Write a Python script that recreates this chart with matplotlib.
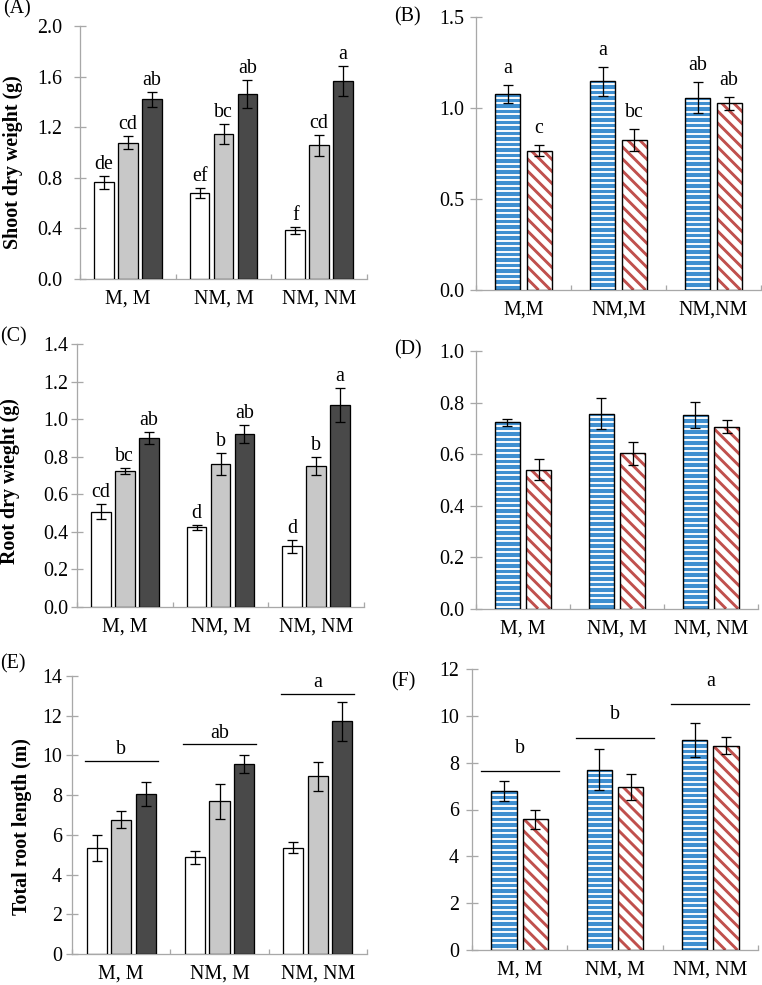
import matplotlib
matplotlib.use("Agg")
import matplotlib.pyplot as plt
from matplotlib.collections import LineCollection
from matplotlib.transforms import IdentityTransform
import numpy as np

DPI = 140
W, H = 762, 985

plt.rcParams['font.family'] = ['Liberation Serif', 'DejaVu Serif']

# x categories
groups = ['M, M', 'NM, M', 'NM, NM']
groups_b = ['M,M', 'NM,M', 'NM,NM']

# (A) shoot dry weight, three series (white, grey, dark)
shoot_w = [0.765, 0.680, 0.385]
shoot_w_err = [0.053, 0.043, 0.030]
shoot_w_let = ['de', 'ef', 'f']
shoot_g = [1.078, 1.149, 1.057]
shoot_g_err = [0.050, 0.080, 0.085]
shoot_g_let = ['cd', 'bc', 'cd']
shoot_d = [1.420, 1.460, 1.565]
shoot_d_err = [0.062, 0.112, 0.122]
shoot_d_let = ['ab', 'ab', 'a']

# (B) shoot, two series (blue striped, red striped)
shoot2_b = [1.075, 1.148, 1.057]
shoot2_b_err = [0.050, 0.080, 0.085]
shoot2_b_let = ['a', 'a', 'ab']
shoot2_r = [0.765, 0.826, 1.027]
shoot2_r_err = [0.030, 0.060, 0.036]
shoot2_r_let = ['c', 'bc', 'ab']

# (C) root dry weight
root_w = [0.506, 0.423, 0.322]
root_w_err = [0.040, 0.014, 0.036]
root_w_let = ['cd', 'd', 'd']
root_g = [0.723, 0.759, 0.752]
root_g_err = [0.015, 0.059, 0.048]
root_g_let = ['bc', 'b', 'b']
root_d = [0.901, 0.921, 1.075]
root_d_err = [0.032, 0.047, 0.090]
root_d_let = ['ab', 'ab', 'a']

# (D)
root2_b = [0.723, 0.757, 0.752]
root2_b_err = [0.015, 0.060, 0.049]
root2_r = [0.540, 0.603, 0.706]
root2_r_err = [0.040, 0.044, 0.026]

# (E) total root length
len_w = [5.35, 4.87, 5.35]
len_w_err = [0.66, 0.34, 0.28]
len_g = [6.76, 7.69, 8.95]
len_g_err = [0.43, 0.87, 0.73]
len_d = [8.06, 9.58, 11.72]
len_d_err = [0.60, 0.45, 0.99]
len_line = [9.72, 10.57, 13.11]
len_line_let = ['b', 'ab', 'a']

# (F)
len2_b = [6.78, 7.70, 8.97]
len2_b_err = [0.43, 0.88, 0.74]
len2_r = [5.58, 6.96, 8.72]
len2_r_err = [0.41, 0.56, 0.37]
len2_line = [7.64, 9.07, 10.50]
len2_line_let = ['b', 'b', 'a']

WHITE = '#FFFFFF'
GREY = '#C8C8C8'
DARK = '#494949'
BLUE = '#3F8FD0'
RED = '#C0504D'
AXCOL = '#A8A8A8'
FS = 20  # px


def pt(px):
    return px * 72.0 / DPI


fig = plt.figure(figsize=(W / DPI, H / DPI), dpi=DPI)


def make_axes(x0, x1, ytop, ybot):
    return fig.add_axes([x0 / W, 1 - ybot / H, (x1 - x0) / W, (ybot - ytop) / H])


def style(ax, ymax, step, fmt, pad_px, xlabels):
    ax.set_xlim(0, 3)
    ax.set_ylim(0, ymax)
    for s in ['top', 'right']:
        ax.spines[s].set_visible(False)
    for s in ['left', 'bottom']:
        ax.spines[s].set_color(AXCOL)
        ax.spines[s].set_linewidth(pt(1.3))
    ticks = np.arange(0, ymax + step / 2, step)
    ax.set_yticks(ticks)
    ax.set_yticklabels([fmt % t for t in ticks])
    ax.tick_params(axis='y', direction='inout', length=pt(12.6), width=pt(1.3),
                   color=AXCOL, labelsize=pt(FS), pad=pt(pad_px))
    ax.set_xticks([0, 1, 2, 3])
    ax.set_xticklabels([])
    ax.set_xticks([0.5, 1.5, 2.5], minor=True)
    ax.set_xticklabels(xlabels, minor=True)
    ax.tick_params(axis='x', which='major', direction='in', length=pt(5),
                   width=pt(1.3), color=AXCOL)
    ax.tick_params(axis='x', which='minor', direction='in', length=0,
                   labelsize=pt(FS), pad=pt(11))


def errs(ax, x, y, e):
    ax.errorbar(x, y, yerr=e, fmt='none', ecolor='black', elinewidth=pt(1.3),
                capsize=pt(4.6), capthick=pt(1.3), zorder=5)


def letters(ax, x, y, e, labs, off_px):
    for xi, yi, ei, t in zip(x, y, e, labs):
        ax.annotate(t, (xi, yi + ei), xytext=(0, pt(off_px)), textcoords='offset points',
                    ha='center', va='bottom', fontsize=pt(FS))


def three_bars(ax, series, off_px):
    centers = np.arange(3) + 0.5
    for k, (vals, err, col, labs) in enumerate(series):
        x = centers + (k - 1) * 0.25
        ax.bar(x, vals, 0.205, color=col, edgecolor='black', linewidth=pt(1.3), zorder=3)
        errs(ax, x, vals, err)
        if labs is not None:
            letters(ax, x, vals, err, labs, off_px)


def stripes(ax, bars, color, spacing, lw_px, diagonal):
    # stripe fill drawn in pixel space, clipped to each bar
    for b in bars:
        (x0, y0), (x1, y1) = ax.transData.transform(
            [(b.get_x(), 0), (b.get_x() + b.get_width(), b.get_height())])
        if diagonal:
            cs = np.arange(x0 + y0, x1 + y1 + spacing, spacing)
            segs = [[(c - y1, y1), (c - y0, y0)] for c in cs]
        else:
            ys = np.arange(y1 - spacing * 0.6, y0, -spacing)
            segs = [[(x0 - 2, y), (x1 + 2, y)] for y in ys]
        lc = LineCollection(segs, colors=color, linewidths=pt(lw_px),
                            transform=IdentityTransform(), zorder=3.5)
        ax.add_collection(lc, autolim=False)
        lc.set_clip_path(b)


def striped(ax, x, vals, face, line, spacing, lw_px, diagonal):
    bars = ax.bar(x, vals, 0.265, color=face, linewidth=0, zorder=3)
    stripes(ax, bars, line, spacing, lw_px, diagonal)
    ax.bar(x, vals, 0.265, fill=False, edgecolor='black', linewidth=pt(1.4), zorder=4)


def two_bars(ax, blue, blue_err, red, red_err, blue_let=None, red_let=None, off_px=7):
    centers = np.arange(3) + 0.5
    xb = centers - 0.165
    xr = centers + 0.165
    striped(ax, xb, blue, BLUE, 'white', 5.5, 1.9, False)
    striped(ax, xr, red, 'white', RED, 12.0, 2.9, True)
    errs(ax, xb, blue, blue_err)
    errs(ax, xr, red, red_err)
    if blue_let is not None:
        letters(ax, xb, blue, blue_err, blue_let, off_px)
        letters(ax, xr, red, red_err, red_let, off_px)


def group_lines(ax, ys, labs, half, off_px):
    centers = np.arange(3) + 0.5
    for c, y, t in zip(centers, ys, labs):
        ax.plot([c - half, c + half], [y, y], color='black', lw=pt(1.3), zorder=5)
        ax.annotate(t, (c, y), xytext=(0, pt(off_px)), textcoords='offset points',
                    ha='center', va='bottom', fontsize=pt(FS))


def ylab(ax, text, xf, yf):
    ax.text(xf, yf, text, transform=ax.transAxes, rotation=90, ha='center', va='center',
            fontsize=pt(FS), fontweight='bold')


def panel(text, x_px, y_px):
    fig.text(x_px / W, 1 - y_px / H, text, ha='left', va='center', fontsize=pt(FS))


# (A)
axA = make_axes(80, 367, 26, 279)
style(axA, 2.0, 0.4, '%.1f', 11.7, groups)
three_bars(axA, [(shoot_w, shoot_w_err, WHITE, shoot_w_let),
                 (shoot_g, shoot_g_err, GREY, shoot_g_let),
                 (shoot_d, shoot_d_err, DARK, shoot_d_let)], 2)
ylab(axA, 'Shoot dry weight (g)', -0.235, 0.462)

# (B)
axB = make_axes(476, 761, 17, 290)
style(axB, 1.5, 0.5, '%.1f', 5.7, groups_b)
two_bars(axB, shoot2_b, shoot2_b_err, shoot2_r, shoot2_r_err, shoot2_b_let, shoot2_r_let, 7)

# (C)
axC = make_axes(77, 364, 344, 606.7)
style(axC, 1.4, 0.2, '%.1f', 2.7, groups)
three_bars(axC, [(root_w, root_w_err, WHITE, root_w_let),
                 (root_g, root_g_err, GREY, root_g_let),
                 (root_d, root_d_err, DARK, root_d_let)], 2)
ylab(axC, 'Root dry wieght (g)', -0.235, 0.478)

# (D)
axD = make_axes(476, 758, 351, 608.7)
style(axD, 1.0, 0.2, '%.1f', 5.4, groups)
two_bars(axD, root2_b, root2_b_err, root2_r, root2_r_err)

# (E)
axE = make_axes(72, 367, 676, 954)
style(axE, 14, 2, '%d', 3.7, groups)
three_bars(axE, [(len_w, len_w_err, WHITE, None),
                 (len_g, len_g_err, GREY, None),
                 (len_d, len_d_err, DARK, None)], 2)
group_lines(axE, len_line, len_line_let, 0.37, 1.5)
ylab(axE, 'Total root length (m)', -0.17, 0.46)

# (F)
axF = make_axes(472, 758, 669, 950)
style(axF, 12, 2, '%d', 6.7, groups)
two_bars(axF, len2_b, len2_b_err, len2_r, len2_r_err)
group_lines(axF, len2_line, len2_line_let, 0.41, 13.5)

panel('(A)', 3, 9)
panel('(B)', 394, 17)
panel('(C)', 0, 337)
panel('(D)', 394, 350)
panel('(E)', 0, 664)
panel('(F)', 391, 682)

fig.savefig('out.png', dpi=DPI)
